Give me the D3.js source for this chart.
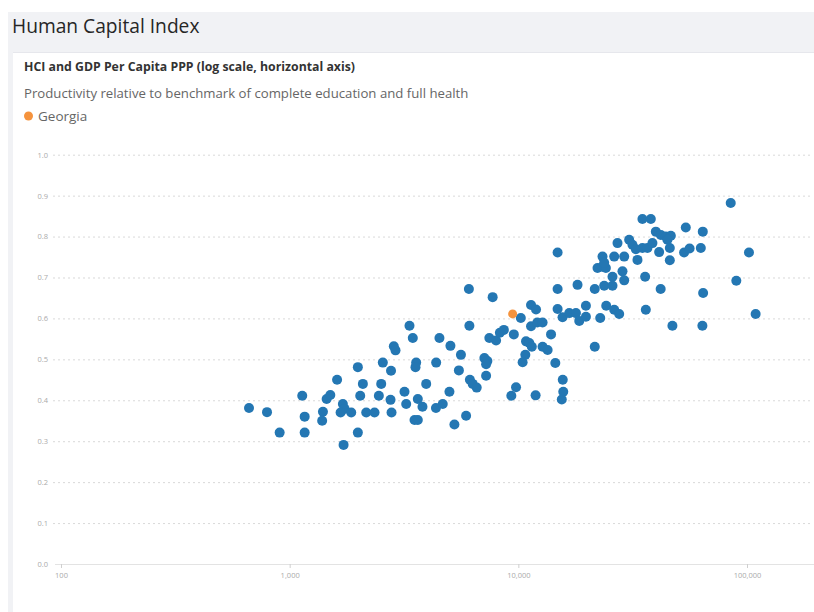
<!DOCTYPE html>
<html>
<head>
<meta charset="utf-8">
<script src="https://cdn.jsdelivr.net/npm/d3@7"></script>
<style>
  html, body { margin: 0; padding: 0; background: #ffffff; }
  svg { display: block; font-family: "Open Sans", "Noto Sans", sans-serif; }
</style>
</head>
<body>
<svg id="chart" width="814" height="612"></svg>
<script>
// GDP per capita, PPP (US$) for each country
const gdpPerCapita = [664, 796, 904, 1135, 1163, 1163, 1398, 1387, 1451, 1506,
  1612, 1709, 1738, 1670, 1859, 1721, 1987, 2035, 1987, 2090,
  2162, 2350, 2455, 2514, 2555, 2775, 2761, 2789, 2854, 2903,
  3178, 3233, 3342, 3455, 3575, 3550, 3634, 3809, 3516, 3634,
  3954, 4372, 4362, 4671, 4519, 4997, 5047, 5254, 5496, 5610,
  5910, 6079, 6109, 6140, 6316, 6575, 7106, 7323, 7229, 7229,
  7469, 7992, 8304, 8645, 7721, 10254, 9557, 9772, 9320, 10730,
  10443, 10804, 11170, 11455, 11364, 11950, 11364, 12106, 12766, 11900,
  12766, 13428, 13900, 14510, 14850, 14850, 14850, 15610, 16700, 17860,
  18470, 19750, 19750, 15640, 15720, 15490, 18150, 21590, 21590, 22810,
  24230, 26260, 27610, 23740, 25810, 25810, 28540, 29040, 22200, 23340,
  24150, 23340, 23740, 26260, 29040, 27140, 30530, 31550, 32660, 33190,
  34890, 36700, 34890, 37970, 38590, 39930, 42000, 44160, 46440, 44870,
  41280, 45970, 45970, 35850, 36100, 41920, 47190, 53080, 56110, 54000,
  62800, 64070, 64280, 63820, 84880, 89800, 102000, 109100];

// Human Capital Index for the same countries
const hciValues = [0.381, 0.371, 0.321, 0.411, 0.360, 0.321, 0.372, 0.350, 0.403, 0.413,
  0.450, 0.391, 0.379, 0.370, 0.370, 0.291, 0.481, 0.411, 0.321, 0.440,
  0.370, 0.370, 0.411, 0.440, 0.492, 0.472, 0.401, 0.370, 0.532, 0.522,
  0.421, 0.391, 0.582, 0.552, 0.492, 0.481, 0.403, 0.384, 0.352, 0.352,
  0.440, 0.492, 0.381, 0.391, 0.552, 0.421, 0.533, 0.341, 0.473, 0.511,
  0.362, 0.672, 0.582, 0.450, 0.440, 0.431, 0.503, 0.496, 0.488, 0.460,
  0.552, 0.546, 0.565, 0.572, 0.652, 0.601, 0.561, 0.432, 0.411, 0.511,
  0.493, 0.544, 0.540, 0.531, 0.633, 0.622, 0.581, 0.590, 0.590, 0.412,
  0.531, 0.523, 0.561, 0.491, 0.761, 0.672, 0.623, 0.603, 0.613, 0.613,
  0.594, 0.604, 0.631, 0.450, 0.421, 0.402, 0.682, 0.672, 0.531, 0.601,
  0.631, 0.621, 0.611, 0.680, 0.680, 0.702, 0.715, 0.693, 0.723, 0.726,
  0.723, 0.751, 0.736, 0.751, 0.751, 0.784, 0.792, 0.780, 0.769, 0.743,
  0.772, 0.772, 0.843, 0.843, 0.784, 0.812, 0.804, 0.800, 0.802, 0.792,
  0.762, 0.772, 0.742, 0.702, 0.621, 0.672, 0.582, 0.761, 0.771, 0.822,
  0.772, 0.812, 0.662, 0.582, 0.882, 0.692, 0.761, 0.611];

// Highlighted country
const highlightName = "Georgia";
const highlightGdp = [9444];
const highlightHci = [0.611];

// Axis ticks
const xTickValues = [100, 1000, 10000, 100000];
const yTickValues = [0.0, 0.1, 0.2, 0.3, 0.4, 0.5, 0.6, 0.7, 0.8, 0.9, 1.0];

// Texts
const pageTitle = "Human Capital Index";
const chartTitle = "HCI and GDP Per Capita PPP (log scale, horizontal axis)";
const chartSubtitle = "Productivity relative to benchmark of complete education and full health";

const svg = d3.select("#chart");
const W = 814, H = 612;

// Page frame
svg.append("rect").attr("x", 0).attr("y", 0).attr("width", W).attr("height", H).attr("fill", "#ffffff");
svg.append("rect").attr("x", 8).attr("y", 12).attr("width", W - 8).attr("height", H - 12).attr("fill", "#f1f2f5");
svg.append("rect").attr("x", 13).attr("y", 52).attr("width", W - 13).attr("height", H - 52).attr("fill", "#ffffff");
svg.append("line").attr("x1", 13).attr("x2", W).attr("y1", 52.5).attr("y2", 52.5).attr("stroke", "#e6e7ec");

svg.append("text").attr("x", 12).attr("y", 33)
  .attr("font-size", 19.2).attr("fill", "#262626").text(pageTitle);
svg.append("text").attr("x", 24).attr("y", 71)
  .attr("font-size", 12.2).attr("font-weight", "bold").attr("fill", "#333")
  .attr("textLength", 331).attr("lengthAdjust", "spacingAndGlyphs").text(chartTitle);
svg.append("text").attr("x", 24).attr("y", 98)
  .attr("font-size", 13.2).attr("fill", "#666").text(chartSubtitle);

// Legend
svg.append("circle").attr("cx", 28.5).attr("cy", 116).attr("r", 4.5).attr("fill", "#f5933d");
svg.append("text").attr("x", 38).attr("y", 120.5)
  .attr("font-size", 13.5).attr("fill", "#666").text(highlightName);

// Scales
const x = d3.scaleLog().domain([100, 100000]).range([61, 747]);
const y = d3.scaleLinear().domain([0, 1]).range([564, 154.7]);

// Y gridlines and labels
const gridLeft = 53, gridRight = 810;
const yAxis = d3.axisLeft(y)
  .tickValues(yTickValues)
  .tickFormat(d3.format(".1f"))
  .tickSize(-(gridRight - gridLeft))
  .tickPadding(5);
const gy = svg.append("g").attr("transform", `translate(${gridLeft},0)`).call(yAxis);
gy.select(".domain").remove();
gy.selectAll(".tick line")
  .attr("stroke", "#d9d9d9")
  .attr("stroke-dasharray", "2,3")
  .attr("stroke-width", 1)
  .attr("opacity", d => d === 0 ? 0 : 1);
gy.selectAll(".tick text")
  .attr("fill", "#aaa")
  .attr("font-size", 7.5)
  .attr("font-family", "'Open Sans', sans-serif");

// X axis
const xAxis = d3.axisBottom(x)
  .tickValues(xTickValues)
  .tickFormat(d3.format(","))
  .tickSize(4)
  .tickPadding(5);
const gx = svg.append("g").attr("transform", `translate(0,${y(0)})`).call(xAxis);
gx.select(".domain").remove();
gx.insert("line", ":first-child").attr("x1", 55).attr("x2", W).attr("y1", 0.5).attr("y2", 0.5)
  .attr("stroke", "#e3e3e3");
gx.selectAll(".tick line").attr("stroke", "#cfcfcf");
gx.selectAll(".tick text")
  .attr("fill", "#aaa")
  .attr("font-size", 7.5)
  .attr("font-family", "'Open Sans', sans-serif");

// Points
const points = gdpPerCapita.map((g, i) => ({ gdp: g, hci: hciValues[i] }));
svg.append("g").selectAll("circle")
  .data(points)
  .join("circle")
  .attr("cx", d => x(d.gdp))
  .attr("cy", d => y(d.hci))
  .attr("r", 5)
  .attr("fill", "#2477b3");

const hl = highlightGdp.map((g, i) => ({ gdp: g, hci: highlightHci[i] }));
svg.append("g").selectAll("circle")
  .data(hl)
  .join("circle")
  .attr("cx", d => x(d.gdp))
  .attr("cy", d => y(d.hci))
  .attr("r", 4.5)
  .attr("fill", "#f5933d");
</script>
</body>
</html>
